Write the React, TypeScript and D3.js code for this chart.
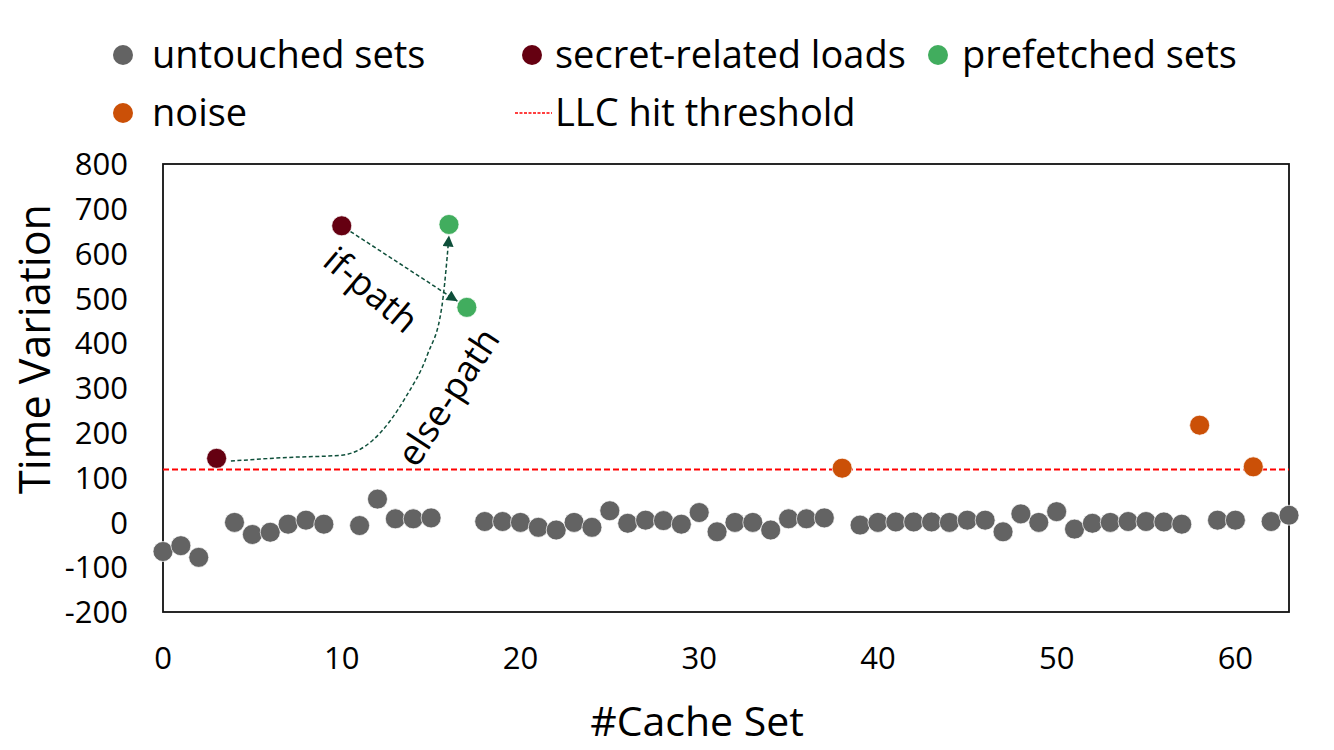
import React from 'react';
import * as d3 from 'd3';

// cache sets with no activity
const untouchedSets = [0, 1, 2, 4, 5, 6, 7, 8, 9, 11, 12, 13, 14, 15, 18, 19, 20, 21, 22, 23, 24, 25, 26, 27, 28, 29, 30, 31, 32, 33, 34, 35, 36, 37, 39, 40, 41, 42, 43, 44, 45, 46, 47, 48, 49, 50, 51, 52, 53, 54, 55, 56, 57, 59, 60, 62, 63];
const untouchedTimes = [-65, -52, -78, 0, -27, -22, -4, 5, -4, -7, 52, 8, 8, 10, 2, 2, 0, -11, -17, 0, -11, 26, -2, 5, 4, -4, 22, -21, 0, 0, -17, 8, 8, 10, -6, 0, 1, 1, 1, 0, 5, 5, -21, 19, 0, 24, -15, -2, 0, 2, 2, 1, -4, 5, 5, 2, 16];

const secretSets = [3, 10];
const secretTimes = [143, 662];

const prefetchedSets = [16, 17];
const prefetchedTimes = [665, 480];

const noiseSets = [38, 58, 61];
const noiseTimes = [121, 217, 124];

const hitThreshold = 118;

const xTicks = [0, 10, 20, 30, 40, 50, 60];
const yTicks = [-200, -100, 0, 100, 200, 300, 400, 500, 600, 700, 800];

// else-path curve, in data units (set, time)
const elsePath: [number, number][] = [[3.8, 137], [7, 145], [10, 150], [11.75, 184], [13.6, 281], [14.8, 375], [15.6, 481], [15.9, 593]];

const COLORS = {
  untouched: '#636363',
  secret: '#650011',
  prefetched: '#41ad5e',
  noise: '#cb5007',
  arrow: '#0e4f3a',
};

const FONT = '"Open Sans", "Noto Sans", sans-serif';

export default function App() {
  const width = 1334, height = 750;
  const box = { left: 163, top: 164, right: 1289, bottom: 612 };
  const r = 10;

  const x = d3.scaleLinear().domain([0, 63]).range([box.left, box.right]);
  const y = d3.scaleLinear().domain([-200, 800]).range([box.bottom, box.top]);

  const dot = (sets: number[], times: number[], fill: string, key: string) =>
    sets.map((s, i) => (
      <circle key={key + i} cx={x(s)} cy={y(times[i])} r={r} fill={fill} stroke="#fff" strokeWidth={0.7} />
    ));

  // if-path: straight arrow from secret load 10 to prefetched set 17
  const x0 = x(secretSets[1]), y0 = y(secretTimes[1]);
  const x1 = x(prefetchedSets[1]), y1 = y(prefetchedTimes[1]);
  const len = Math.hypot(x1 - x0, y1 - y0);
  const ux = (x1 - x0) / len, uy = (y1 - y0) / len;
  const ifAngle = Math.atan2(y1 - y0, x1 - x0) * 180 / Math.PI;

  // else-path: curve from secret load 3 up to prefetched set 16
  const elsePts: [number, number][] = elsePath.map(d => [x(d[0]), y(d[1])]);
  elsePts.push([x(prefetchedSets[0]), y(prefetchedTimes[0]) + r + 1]);
  const elseLine = d3.line().curve(d3.curveMonotoneX)(elsePts) || '';

  return (
    <svg width={width} height={height} style={{ position: 'absolute', left: 0, top: 0, background: '#fff' }} fontFamily={FONT}>
      <defs>
        <marker id="arrowHead" viewBox="0 0 10 10" refX={10} refY={5} markerWidth={12} markerHeight={11}
          markerUnits="userSpaceOnUse" orient="auto">
          <path d="M0,0 L10,5 L0,10 Z" fill={COLORS.arrow} />
        </marker>
      </defs>

      {/* legend */}
      <g fontSize={38} fill="#000">
        <circle cx={123} cy={55} r={r} fill={COLORS.untouched} />
        <text x={152} y={68}>untouched sets</text>
        <circle cx={532} cy={55} r={r} fill={COLORS.secret} />
        <text x={555} y={68}>secret-related loads</text>
        <circle cx={938} cy={55} r={r} fill={COLORS.prefetched} />
        <text x={962} y={68}>prefetched sets</text>
        <circle cx={123} cy={113} r={r} fill={COLORS.noise} />
        <text x={152} y={126}>noise</text>
        <line x1={515} x2={552} y1={113} y2={113} stroke="#ff0000" strokeWidth={1.5} strokeDasharray="3,1.5" />
        <text x={555} y={126}>LLC hit threshold</text>
      </g>

      {/* plot frame */}
      <rect x={box.left} y={box.top} width={box.right - box.left} height={box.bottom - box.top}
        fill="none" stroke="#111" strokeWidth={1.8} />

      {/* y ticks */}
      <g fontSize={31} textAnchor="end">
        {yTicks.map(t => (
          <text key={t} x={128} y={y(t)} dy="0.36em">{t}</text>
        ))}
      </g>
      {/* x ticks */}
      <g fontSize={31} textAnchor="middle">
        {xTicks.map(t => (
          <text key={t} x={x(t)} y={669}>{t}</text>
        ))}
      </g>

      <text x={697} y={736} fontSize={41} textAnchor="middle">#Cache Set</text>
      <text transform={`translate(50,349) rotate(-90)`} fontSize={43} textAnchor="middle">Time Variation</text>

      {/* threshold */}
      <line x1={box.left} x2={box.right} y1={y(hitThreshold)} y2={y(hitThreshold)}
        stroke="#ff0000" strokeWidth={2} strokeDasharray="6,3" />

      {dot(untouchedSets, untouchedTimes, COLORS.untouched, 'u')}
      {dot(noiseSets, noiseTimes, COLORS.noise, 'n')}
      {dot(secretSets, secretTimes, COLORS.secret, 's')}
      {dot(prefetchedSets, prefetchedTimes, COLORS.prefetched, 'p')}

      {/* annotations */}
      <line x1={x0 + ux * (r + 0.5)} y1={y0 + uy * (r + 0.5)} x2={x1 - ux * (r + 1)} y2={y1 - uy * (r + 1)}
        stroke={COLORS.arrow} strokeWidth={1.5} strokeDasharray="4,2.5" markerEnd="url(#arrowHead)" />
      <path d={elseLine} fill="none" stroke={COLORS.arrow} strokeWidth={1.5} strokeDasharray="4,2.5"
        markerEnd="url(#arrowHead)" />

      <text transform={`translate(${x(11.64)},${y(519)}) rotate(${ifAngle + 7})`} fontSize={36}
        textAnchor="middle" dy="0.35em">if-path</text>
      <text transform={`translate(${x(15.95)},${y(280)}) rotate(-57)`} fontSize={36}
        textAnchor="middle" dy="0.35em">else-path</text>
    </svg>
  );
}
